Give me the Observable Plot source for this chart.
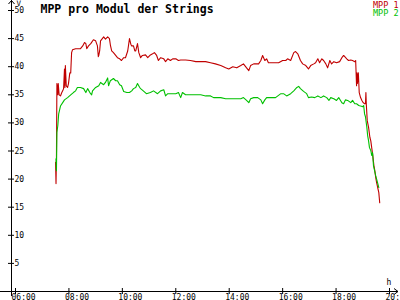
<!DOCTYPE html>
<html>
<head>
<meta charset="utf-8">
<script src="https://cdn.jsdelivr.net/npm/d3@7"></script>
<script src="https://cdn.jsdelivr.net/npm/@observablehq/plot@0.6"></script>
<style>
  html, body { margin: 0; padding: 0; background: #fff; }
  #chart svg { display: block; }
</style>
</head>
<body>
<div id="chart"></div>
<script>
const title = "MPP pro Modul der Strings";
const seriesNames = ["MPP 1", "MPP 2"];
const seriesColors = ["#c00000", "#00c000"];
const yTicks = [5, 10, 15, 20, 25, 30, 35, 40, 45, 50];
const xTicks = [6, 8, 10, 12, 14, 16, 18, 20];
const xTickLabels = ["06:00", "08:00", "10:00", "12:00", "14:00", "16:00", "18:00", "20:00"];
const yUnit = "V";
const xUnit = "h";

const mpp1Time = ["07:30","07:31","07:32","07:33","07:35","07:36","07:38","07:41","07:44","07:46","07:48","07:50","07:51","07:52","07:54","07:57","07:59","08:02","08:04","08:06","08:08","08:15","08:22","08:26","08:31","08:35","08:38","08:40","08:44","08:49","08:55","09:00","09:04","09:06","09:07","09:09","09:11","09:15","09:18","09:22","09:27","09:31","09:33","09:36","09:40","09:45","09:49","09:54","09:58","10:03","10:07","10:12","10:16","10:19","10:21","10:25","10:28","10:30","10:34","10:37","10:41","10:45","10:52","10:57","11:03","11:08","11:12","11:17","11:21","11:26","11:33","11:37","11:42","11:48","11:53","12:00","12:06","12:11","12:22","12:33","12:45","12:56","13:07","13:18","13:29","13:41","13:52","13:59","14:08","14:17","14:26","14:32","14:39","14:44","14:48","14:55","14:59","15:06","15:11","15:15","15:20","15:24","15:28","15:37","15:51","16:00","16:07","16:11","16:18","16:25","16:29","16:34","16:40","16:45","16:52","16:58","17:03","17:10","17:14","17:19","17:23","17:28","17:32","17:37","17:41","17:46","17:50","17:55","18:01","18:08","18:13","18:17","18:24","18:28","18:33","18:37","18:42","18:44","18:46","18:47","18:48","18:50","18:52","18:55","18:58","19:01","19:04","19:06","19:07","19:08","19:10","19:13","19:16","19:18","19:20","19:22","19:25","19:27","19:29","19:31","19:34","19:36","19:38"];
const mpp1 = [23.0,19.2,24.0,37.0,35.0,37.0,35.0,34.8,35.4,35.7,36.1,39.6,36.3,40.2,36.6,36.3,37.0,38.9,38.9,42.5,43.0,43.2,43.2,43.2,43.7,44.3,44.1,43.2,43.7,44.1,44.8,44.6,43.7,41.8,42.0,42.8,44.6,45.0,45.3,44.9,45.3,45.0,43.9,42.8,42.5,42.0,41.6,41.4,41.1,41.6,41.6,42.8,45.0,44.0,43.7,43.7,42.8,42.8,44.1,42.5,41.6,42.0,42.1,41.6,42.1,42.3,42.5,42.0,41.1,41.6,41.4,40.9,41.4,41.1,41.4,41.4,41.1,41.2,41.2,41.1,40.9,40.9,40.9,40.7,40.5,40.2,39.8,39.6,40.0,39.8,40.2,40.5,39.8,39.3,40.2,40.5,40.5,40.5,41.1,42.0,41.1,41.4,40.7,40.7,40.7,41.1,41.1,41.4,41.1,42.5,42.7,42.3,41.1,40.5,40.2,39.6,40.2,40.5,40.7,41.4,40.7,41.4,41.1,40.5,39.8,41.1,40.5,40.9,40.7,40.9,41.6,42.0,41.4,41.1,41.2,41.1,40.9,41.1,36.6,38.9,37.0,38.9,35.4,34.5,34.0,33.6,33.4,33.4,35.4,33.2,30.4,29.2,27.4,26.8,25.6,24.5,22.4,21.5,20.3,19.4,18.3,17.6,15.8];

const mpp2Time = ["07:31","07:32","07:33","07:35","07:37","07:41","07:46","07:50","07:57","08:04","08:10","08:15","08:19","08:26","08:33","08:38","08:42","08:47","08:51","08:53","09:00","09:07","09:11","09:18","09:22","09:27","09:29","09:33","09:40","09:45","09:49","09:54","09:58","10:03","10:10","10:16","10:21","10:25","10:30","10:34","10:39","10:41","10:47","10:54","11:03","11:10","11:19","11:26","11:33","11:37","11:42","11:48","12:00","12:06","12:11","12:15","12:22","12:33","12:56","13:07","13:18","13:25","13:34","13:41","13:52","14:04","14:26","14:32","14:39","14:44","14:48","14:55","15:04","15:11","15:15","15:20","15:24","15:33","15:44","15:56","16:02","16:09","16:18","16:25","16:32","16:36","16:40","16:47","16:54","16:58","17:05","17:12","17:19","17:26","17:32","17:39","17:44","17:48","17:55","18:01","18:06","18:10","18:13","18:17","18:21","18:26","18:33","18:37","18:42","18:46","18:51","18:55","19:00","19:02","19:04","19:06","19:09","19:11","19:13","19:15","19:18","19:20","19:22","19:24","19:29","19:33","19:36"];
const mpp2 = [23.6,21.5,28.3,29.5,31.6,33.0,33.6,34.1,34.5,35.0,35.4,35.7,36.3,36.3,36.1,35.4,36.1,35.4,35.0,35.7,36.3,36.6,37.2,36.8,37.2,38.0,36.6,37.5,37.9,37.5,37.5,36.8,36.6,35.6,35.4,35.4,35.7,36.1,36.3,37.0,36.3,36.1,35.7,35.2,35.4,35.7,35.2,35.7,35.9,34.8,35.2,35.2,35.2,35.4,34.5,35.4,35.0,35.0,35.0,34.8,34.8,34.5,34.5,34.5,34.3,34.3,34.3,34.5,34.0,33.6,34.3,34.5,34.5,34.1,33.4,34.1,34.5,34.5,34.5,35.2,35.2,34.8,35.2,35.7,36.3,36.5,36.1,35.6,35.2,34.5,34.6,34.5,34.8,34.5,34.8,34.5,34.0,34.5,34.3,34.0,34.5,34.0,33.6,33.4,34.1,34.0,33.6,34.0,33.4,33.4,33.1,33.0,32.9,33.1,31.6,31.1,29.3,27.7,26.8,25.6,25.1,24.2,24.7,22.4,20.6,19.4,18.5];

const toHours = s => { const [h, m] = s.split(":").map(Number); return h + m / 60; };
const rows = [
  ...mpp1Time.map((t, i) => ({ t: toHours(t), v: mpp1[i], s: seriesNames[0] })),
  ...mpp2Time.map((t, i) => ({ t: toHours(t), v: mpp2[i], s: seriesNames[1] }))
];

const mono = "DejaVu Sans Mono";
const W = 400, H = 300;

const plot = Plot.plot({
  width: W,
  height: H,
  marginLeft: 15,
  marginRight: 11,
  marginTop: 10,
  marginBottom: 9,
  x: { domain: [6, 20], axis: null },
  y: { domain: [0, 50], axis: null },
  color: { domain: seriesNames, range: seriesColors },
  style: { fontFamily: mono, background: "#fff", overflow: "visible" },
  marks: [
    Plot.ruleY([0], { stroke: "#000", insetLeft: -15, insetRight: -9 }),
    Plot.ruleX([6], { stroke: "#000", dx: -4, insetTop: -10, insetBottom: -5 }),
    Plot.ruleY(yTicks, { y: d => d, x1: 6, x2: 6, dx: -4, insetLeft: -3, insetRight: -3, stroke: "#000" }),
    Plot.text(yTicks, { x: 6, y: d => d, text: d => String(d), textAnchor: "start", dx: -1, fontSize: 8, fill: "#000" }),
    Plot.ruleX(xTicks, { x: d => d, y1: 0, y2: 0, insetTop: -3, insetBottom: -3, stroke: "#000" }),
    Plot.text(xTicks, { x: d => d, y: 0, text: (d, i) => xTickLabels[i], textAnchor: "start", lineAnchor: "bottom", dx: -4, dy: 8, fontSize: 8, fill: "#000" }),
    Plot.line(rows, { x: "t", y: "v", z: "s", stroke: "s", strokeWidth: 1.1, curve: "linear" }),
    Plot.text([title], { frameAnchor: "top-left", textAnchor: "start", lineAnchor: "bottom", dx: 25, dy: 2, fontSize: 11.5, fontWeight: "bold", fill: "#000" }),
    Plot.text([seriesNames[0]], { frameAnchor: "top-right", textAnchor: "end", lineAnchor: "bottom", dx: 9, dy: -3, fontSize: 8.5, fill: seriesColors[0] }),
    Plot.text([seriesNames[1]], { frameAnchor: "top-right", textAnchor: "end", lineAnchor: "bottom", dx: 9, dy: 5.5, fontSize: 8.5, fill: seriesColors[1] }),
    Plot.text([yUnit], { frameAnchor: "top-left", textAnchor: "start", lineAnchor: "bottom", dx: 1, dy: -5, fontSize: 7.5, fill: "#000" }),
    Plot.text([xUnit], { frameAnchor: "bottom-right", textAnchor: "start", lineAnchor: "bottom", dx: -3, dy: -7, fontSize: 8, fill: "#000" })
  ]
});

const svg = d3.select(plot);
const xs = plot.scale("x"), ys = plot.scale("y");
const ax = xs.apply(6) - 4 + 0.5, ay0 = ys.apply(0) + 0.5;
svg.append("path")
  .attr("d", `M${ax - 3},${4} L${ax},${0.5} L${ax + 3},${4}`)
  .attr("fill", "none").attr("stroke", "#000");
const xr = W - 2;
svg.append("path")
  .attr("d", `M${xr - 4},${ay0 - 3} L${xr},${ay0} L${xr - 4},${ay0 + 3}`)
  .attr("fill", "none").attr("stroke", "#000");

document.getElementById("chart").appendChild(plot);
</script>
</body>
</html>
